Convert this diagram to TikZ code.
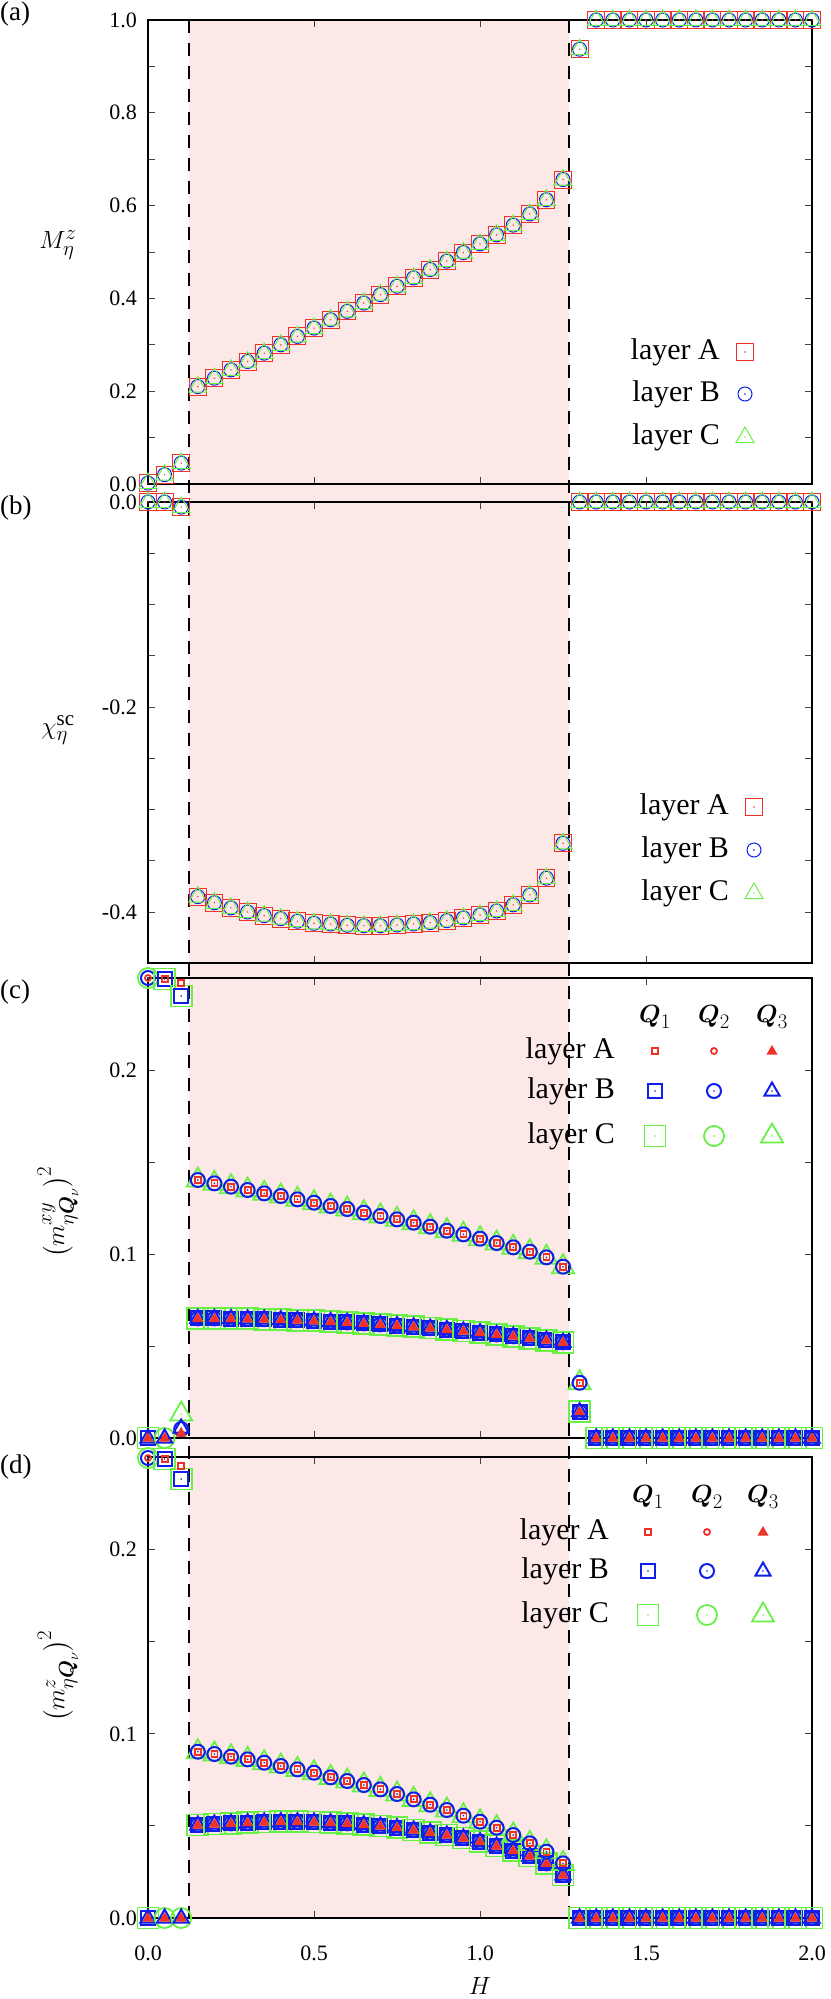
\documentclass[tikz,border=0pt]{standalone}
\usepackage{amsmath}
\usepackage{fontspec}
\setmainfont{Liberation Serif}
\newcommand\bigf{\fontsize{22}{26}\selectfont}
\newcommand\hugef{\fontsize{30}{34}\selectfont}
\newcommand\letf{\fontsize{27}{30}\selectfont}
\definecolor{redc}{RGB}{238,50,40}
\definecolor{bluec}{RGB}{15,30,235}
\definecolor{greenc}{RGB}{105,240,70}
\definecolor{pinkc}{RGB}{253,232,232}
\newcommand\dotc[3]{\fill[#1] (#2,#3) circle[radius=0.8pt];}
\newcommand\abmark[2]{%
 \draw[redc,line width=1pt] (#1-8.5,#2-8.5) rectangle (#1+8.5,#2+8.5);
 \draw[bluec,line width=1pt] (#1,#2) circle[radius=7pt];
 \draw[greenc,line width=1pt] (#1,#2-10) -- (#1+9,#2+5.5) -- (#1-9,#2+5.5) -- cycle;
 \dotc{redc}{#1}{#2}}
\newcommand\ASq[2]{\draw[redc,line width=1.8pt] (#1-3,#2-3) rectangle (#1+3,#2+3);}
\newcommand\ACi[2]{\draw[redc,line width=1.8pt] (#1,#2) circle[radius=3pt];}
\newcommand\ATr[2]{\fill[redc] (#1,#2-6) -- (#1+5.5,#2+3.5) -- (#1-5.5,#2+3.5) -- cycle;}
\newcommand\BSq[2]{\draw[bluec,line width=2pt] (#1-7,#2-7) rectangle (#1+7,#2+7);\dotc{bluec}{#1}{#2}}
\newcommand\BCi[2]{\draw[bluec,line width=2pt] (#1,#2) circle[radius=7pt];\dotc{bluec}{#1}{#2}}
\newcommand\BTr[2]{\draw[bluec,line width=2pt] (#1,#2-8.5) -- (#1+7.5,#2+4.5) -- (#1-7.5,#2+4.5) -- cycle;\dotc{bluec}{#1}{#2}}
\newcommand\CSq[2]{\draw[greenc,line width=1.8pt] (#1-10.5,#2-10.5) rectangle (#1+10.5,#2+10.5);\dotc{greenc}{#1}{#2}}
\newcommand\CCi[2]{\draw[greenc,line width=1.8pt] (#1,#2) circle[radius=10pt];\dotc{greenc}{#1}{#2}}
\newcommand\CTr[2]{\draw[greenc,line width=1.8pt] (#1,#2-12.5) -- (#1+11,#2+6.5) -- (#1-11,#2+6.5) -- cycle;\dotc{greenc}{#1}{#2}}
\newcommand\upmk[2]{\CTr{#1}{#2}\BCi{#1}{#2}\ASq{#1}{#2}}
\newcommand\lowmk[2]{\CSq{#1}{#2}\BSq{#1}{#2}\BCi{#1}{#2}\BTr{#1}{#2}\ATr{#1}{#2}}
\begin{document}
\begin{tikzpicture}[x=1pt,y=-1pt,
  tk/.style={line width=0.8pt,black!75},
  frame/.style={line width=1.2pt,black},
  lab/.style={inner sep=0pt,font=\bigf},
  leg/.style={inner sep=0pt,font=\hugef},
  let/.style={inner sep=0pt,font=\letf}]
\useasboundingbox (0,0) rectangle (830,1999);
\fill[pinkc] (189,20) rectangle (569,1918);
\draw[line width=1.6pt,dash pattern=on 13pt off 10pt] (189,20) -- (189,1918);
\draw[line width=1.6pt,dash pattern=on 13pt off 10pt] (569,20) -- (569,1918);
% ticks
\foreach \t/\b in {20/484,502/963,978/1438,1457/1918}{
  \foreach \h in {0.5,1.0,1.5}{
    \draw[tk] (148+332*\h,\t) -- ++(0,7);
    \draw[tk] (148+332*\h,\b) -- ++(0,-7);}}
\foreach \i in {1,...,9}{\draw[tk] (148,484-46.4*\i) -- ++(7,0); \draw[tk] (812,484-46.4*\i) -- ++(-7,0);}
\foreach \i in {1,...,8}{\draw[tk] (148,502+51.25*\i) -- ++(7,0); \draw[tk] (812,502+51.25*\i) -- ++(-7,0);}
\foreach \i in {1,...,4}{\draw[tk] (148,1438-92*\i) -- ++(7,0); \draw[tk] (812,1438-92*\i) -- ++(-7,0);
  \draw[tk] (148,1918-92.25*\i) -- ++(7,0); \draw[tk] (812,1918-92.25*\i) -- ++(-7,0);}
% frames
\draw[frame] (148,20) rectangle (812,484);
\draw[frame] (148,502) rectangle (812,963);
\draw[frame] (148,978) rectangle (812,1438);
\draw[frame] (148,1457) rectangle (812,1918);
% tick labels
\foreach \v in {0.2,0.4,0.6,0.8,1.0}{\node[lab,anchor=east] at (137,484-464*\v) {\v};}
\node[lab,anchor=east] at (137,484) {0.0};
\node[lab,anchor=east] at (137,502) {0.0};
\node[lab,anchor=east] at (137,707) {-0.2};
\node[lab,anchor=east] at (137,912) {-0.4};
\foreach \v/\y in {0.0/1438,0.1/1254,0.2/1070,0.0/1918,0.1/1734,0.2/1549}{\node[lab,anchor=east] at (137,\y) {\v};}
\foreach \v/\h in {0.0/0,0.5/0.5,1.0/1,1.5/1.5,2.0/2}{\node[lab] at (148+332*\h,1953) {\v};}
\node[leg] at (480,1986) {$H$};
% axis labels
\node[leg] at (58,245) {$M_\eta^z$};
\node[leg] at (58,730) {$\chi_\eta^{\mathrm{sc}}$};
\node[leg,rotate=90] at (58,1212) {$\bigl(m^{xy}_{\eta\boldsymbol{Q}_\nu}\bigr)^2$};
\node[leg,rotate=90] at (58,1676) {$\bigl(m^{z}_{\eta\boldsymbol{Q}_\nu}\bigr)^2$};
\node[let,anchor=west] at (0,14) {(a)};
\node[let,anchor=west] at (0,508) {(b)};
\node[let,anchor=west] at (0,992) {(c)};
\node[let,anchor=west] at (0,1467) {(d)};
% ---- panel a data
\foreach \h/\v in {0/0.002,0.05/0.02,0.1/0.045,1.3/0.937}{\pgfmathsetmacro\xx{148+332*\h}\pgfmathsetmacro\yy{484-464*\v}\abmark{\xx}{\yy}}
\foreach \k in {27,...,40}{\pgfmathsetmacro\xx{148+332*\k*0.05}\abmark{\xx}{20}}
\foreach \k in {3,...,25}{\pgfmathsetmacro\hh{\k*0.05}\pgfmathsetmacro\vv{0.21+0.36*(\hh-0.15)+0.05*exp((\hh-1.25)/0.07)}\pgfmathsetmacro\xx{148+332*\hh}\pgfmathsetmacro\yy{484-464*\vv}\abmark{\xx}{\yy}}
% ---- panel b data
\foreach \k/\v in {0/0,1/0,2/-0.005}{\pgfmathsetmacro\xx{148+332*\k*0.05}\pgfmathsetmacro\yy{502-1025*\v}\abmark{\xx}{\yy}}
\foreach \k in {26,...,40}{\pgfmathsetmacro\xx{148+332*\k*0.05}\abmark{\xx}{502}}
\foreach \v [count=\k from 3] in {-0.385,-0.391,-0.396,-0.400,-0.4036,-0.4065,-0.409,-0.411,-0.4117,-0.413,-0.4134,-0.4134,-0.4127,-0.4117,-0.4104,-0.4085,-0.4058,-0.4029,-0.399,-0.393,-0.3834,-0.367,-0.333}{\pgfmathsetmacro\xx{148+332*\k*0.05}\pgfmathsetmacro\yy{502-1025*\v}\abmark{\xx}{\yy}}
% ---- panel c data
\CSq{148}{1438}\BSq{148}{1438}\BTr{148}{1438}\ATr{148}{1438}
\CCi{148}{978}\BCi{148}{978}\ACi{148}{978}
\CSq{164.6}{979}\BSq{164.6}{979}\ASq{164.6}{979}
\CCi{164.6}{1438}\BTr{164.6}{1438}\ATr{164.6}{1438}
\CTr{181.2}{1414}\BCi{181.2}{1429}\BTr{181.2}{1428}\ATr{181.2}{1433}
\CSq{181.2}{996}\BSq{181.2}{996}\ASq{181.2}{983}
\foreach \k in {3,...,25}{\pgfmathsetmacro\hh{\k*0.05}\pgfmathsetmacro\vv{0.065-0.013*((\hh-0.15)/1.1)^2}\pgfmathsetmacro\xx{148+332*\hh}\pgfmathsetmacro\yy{1438-1840*\vv}\lowmk{\xx}{\yy}}
\foreach \yz [count=\k from 3] in {300,310,320,330,340,348,358,368,378,387,398,408,418,428,440,452,463,476,489,502,515,532,560}{\pgfmathsetmacro\xx{148+332*\k*0.05}\pgfmathsetmacro\yy{1080+\yz/3}\upmk{\xx}{\yy}}
\lowmk{579.6}{1411.7}\upmk{579.6}{1382.7}
\foreach \k in {27,...,40}{\pgfmathsetmacro\xx{148+332*\k*0.05}\lowmk{\xx}{1438}}
% ---- panel d data
\CSq{148}{1918}\BSq{148}{1918}\BTr{148}{1918}\ATr{148}{1918}
\CCi{148}{1458}\BCi{148}{1458}\ACi{148}{1458}
\CSq{164.6}{1459}\BSq{164.6}{1459}\ASq{164.6}{1459}
\CCi{164.6}{1918}\BTr{164.6}{1918}\ATr{164.6}{1918}
\CCi{181.2}{1918}\BTr{181.2}{1918}\ATr{181.2}{1918}
\CSq{181.2}{1479}\BSq{181.2}{1479}\ASq{181.2}{1466}
\foreach \yz [count=\k from 3] in {375,372,370,368,366,365,365,366,368,370,374,378,383,390,398,405,414,425,438,452,468,490,525}{\pgfmathsetmacro\xx{148+332*\k*0.05}\pgfmathsetmacro\yy{1700+\yz/3}\lowmk{\xx}{\yy}}
\foreach \yz [count=\k from 3] in {155,162,170,178,188,198,208,218,232,243,255,268,282,298,314,330,347,365,383,405,430,455,490}{\pgfmathsetmacro\xx{148+332*\k*0.05}\pgfmathsetmacro\yy{1700+\yz/3}\upmk{\xx}{\yy}}
\foreach \k in {26,...,40}{\pgfmathsetmacro\xx{148+332*\k*0.05}\lowmk{\xx}{1918}}
% ---- legends a, b
\foreach \t/\y in {A/352,B/394,C/437}{\node[leg,anchor=east] at (720,\y) {layer \t};}
\draw[redc,line width=1pt] (745-8.5,352-8.5) rectangle (745+8.5,352+8.5); \dotc{redc}{745}{352}
\draw[bluec,line width=1pt] (745,394) circle[radius=7pt]; \dotc{bluec}{745}{394}
\draw[greenc,line width=1pt] (745,437-10) -- (745+9,437+5.5) -- (745-9,437+5.5) -- cycle; \dotc{greenc}{745}{437}
\foreach \t/\y in {A/807,B/850,C/893}{\node[leg,anchor=east] at (729,\y) {layer \t};}
\draw[redc,line width=1pt] (754-8.5,807-8.5) rectangle (754+8.5,807+8.5); \dotc{redc}{754}{807}
\draw[bluec,line width=1pt] (754,850) circle[radius=7pt]; \dotc{bluec}{754}{850}
\draw[greenc,line width=1pt] (754,893-10) -- (754+9,893+5.5) -- (754-9,893+5.5) -- cycle; \dotc{greenc}{754}{893}
% ---- legends c, d
\foreach \x/\n in {655/1,714/2,772/3}{\node[leg] at (\x,1017) {$\boldsymbol{Q}_{\n}$};}
\foreach \t/\y in {A/1051,B/1091,C/1136}{\node[leg,anchor=east] at (615,\y) {layer \t};}
\ASq{655}{1051}\ACi{714}{1051}\ATr{772}{1051}
\BSq{655}{1091}\BCi{714}{1091}\BTr{772}{1091}
\CSq{655}{1136}\CCi{714}{1136}\CTr{772}{1136}
\foreach \x/\n in {648/1,707/2,763/3}{\node[leg] at (\x,1497) {$\boldsymbol{Q}_{\n}$};}
\foreach \t/\y in {A/1532,B/1571,C/1615}{\node[leg,anchor=east] at (609,\y) {layer \t};}
\ASq{648}{1532}\ACi{707}{1532}\ATr{763}{1532}
\BSq{648}{1571}\BCi{707}{1571}\BTr{763}{1571}
\CSq{648}{1615}\CCi{707}{1615}\CTr{763}{1615}
\end{tikzpicture}
\end{document}
